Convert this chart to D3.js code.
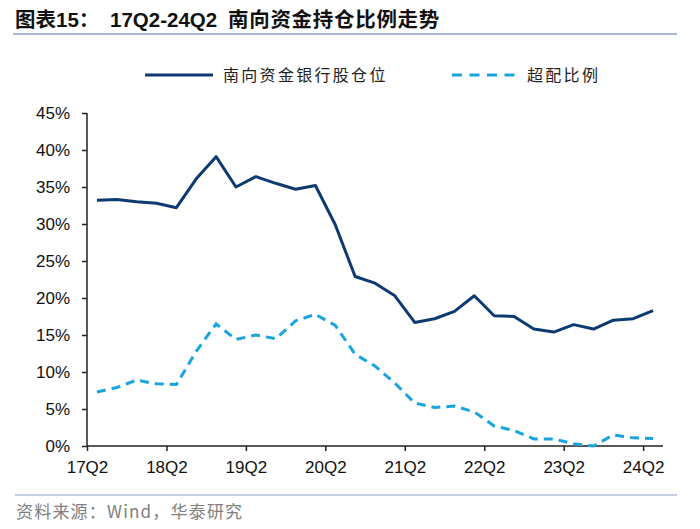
<!DOCTYPE html>
<html>
<head>
<meta charset="utf-8">
<script src="https://cdn.jsdelivr.net/npm/d3@7"></script>
<style>
  html, body { margin: 0; padding: 0; background: #fff; }
  svg { display: block; }
</style>
</head>
<body>
<div id="chart"></div>
<script>
const quarters = ["17Q2","17Q3","17Q4","18Q1","18Q2","18Q3","18Q4","19Q1","19Q2","19Q3","19Q4","20Q1","20Q2","20Q3","20Q4","21Q1","21Q2","21Q3","21Q4","22Q1","22Q2","22Q3","22Q4","23Q1","23Q2","23Q3","23Q4","24Q1","24Q2"];
const bankHolding = [33.2, 33.3, 33.0, 32.8, 32.2, 36.1, 39.1, 35.0, 36.4, 35.5, 34.7, 35.2, 29.9, 22.9, 22.0, 20.3, 16.7, 17.2, 18.2, 20.3, 17.6, 17.5, 15.8, 15.4, 16.4, 15.8, 17.0, 17.2, 18.3];
const overweight = [7.3, 7.9, 8.9, 8.4, 8.3, 12.8, 16.5, 14.4, 15.0, 14.5, 16.9, 17.8, 16.3, 12.4, 10.8, 8.5, 5.8, 5.2, 5.4, 4.6, 2.7, 2.1, 0.95, 0.95, 0.3, 0.0, 1.5, 1.1, 1.0];
const yTicks = [0, 5, 10, 15, 20, 25, 30, 35, 40, 45];
const xTickLabels = ["17Q2","18Q2","19Q2","20Q2","21Q2","22Q2","23Q2","24Q2"];
const seriesNames = ["南向资金银行股仓位", "超配比例"];
const titleLead = "图表15：";
const titleRange = "17Q2-24Q2";
const titleMain = "南向资金持仓比例走势";
const sourceText = "资料来源：Wind，华泰研究";

const W = 700, H = 529;
const darkColor = "#0e3a72", lightColor = "#19a4e0";
const latin = "'Liberation Sans', Arial, 'Noto Sans CJK SC', sans-serif";
const cjk = "'Noto Sans CJK SC', 'Liberation Sans', sans-serif";

const svg = d3.select("#chart").append("svg").attr("width", W).attr("height", H);

// Title
const title = svg.append("text").attr("y", 27).attr("font-weight", "bold")
  .attr("font-size", 20.5).attr("fill", "#111").attr("font-family", latin);
title.append("tspan").attr("x", 15).text(titleLead);
title.append("tspan").attr("x", 110).text(titleRange);
title.append("tspan").attr("x", 228).attr("letter-spacing", 0.7).text(titleMain);
svg.append("line").attr("x1", 13).attr("x2", 677).attr("y1", 34).attr("y2", 34)
  .attr("stroke", "#8ba3c4").attr("stroke-width", 1.5);

// Scales
const x = d3.scaleLinear().domain([0, quarters.length]).range([87, 663]);
const y = d3.scaleLinear().domain([0, 45]).range([446, 113]);

// Axes
const yAxis = d3.axisLeft(y).tickValues(yTicks).tickSize(5).tickPadding(12)
  .tickFormat(d => d + "%");
const gy = svg.append("g").attr("transform", "translate(87,0)").call(yAxis);
const xTickIdx = xTickLabels.map(l => quarters.indexOf(l));
const xAxis = d3.axisBottom(x).tickValues(xTickIdx).tickSize(5).tickPadding(10)
  .tickFormat(i => quarters[i]);
const gx = svg.append("g").attr("transform", "translate(0,446)").call(xAxis);
[gx, gy].forEach(g => {
  g.select(".domain").attr("stroke", "#222").attr("stroke-width", 1.5);
  g.selectAll(".tick line").attr("stroke", "#222").attr("stroke-width", 1.5);
  g.selectAll(".tick text").attr("font-family", latin).attr("font-size", 17).attr("fill", "#111");
});
gy.select(".domain").attr("d", `M-0,${y(45)}V${y(0)}`);
gx.select(".domain").attr("d", `M${x(0)},0H${x(quarters.length)}`);

// Lines
const line = d3.line().x((d, i) => x(i + 0.5)).y(d => y(d));
svg.append("path").datum(overweight).attr("d", line).attr("fill", "none")
  .attr("stroke", lightColor).attr("stroke-width", 3).attr("stroke-dasharray", "9,6");
svg.append("path").datum(bankHolding).attr("d", line).attr("fill", "none")
  .attr("stroke", darkColor).attr("stroke-width", 3).attr("stroke-linejoin", "round");

// Legend
const lg = svg.append("g");
lg.append("line").attr("x1", 145).attr("x2", 213).attr("y1", 75).attr("y2", 75)
  .attr("stroke", darkColor).attr("stroke-width", 3);
lg.append("text").attr("x", 223).attr("y", 81).attr("font-family", cjk).attr("font-size", 16)
  .attr("letter-spacing", 2.3).attr("fill", "#222").text(seriesNames[0]);
lg.append("line").attr("x1", 452).attr("x2", 516).attr("y1", 75).attr("y2", 75)
  .attr("stroke", lightColor).attr("stroke-width", 3).attr("stroke-dasharray", "10,7.5");
lg.append("text").attr("x", 527).attr("y", 81).attr("font-family", cjk).attr("font-size", 16)
  .attr("letter-spacing", 2.3).attr("fill", "#222").text(seriesNames[1]);

// Footer
svg.append("line").attr("x1", 15).attr("x2", 677).attr("y1", 495).attr("y2", 495)
  .attr("stroke", "#8ba3c4").attr("stroke-width", 1.2);
svg.append("text").attr("x", 16).attr("y", 518).attr("font-family", cjk).attr("font-size", 17)
  .attr("letter-spacing", 1.2).attr("fill", "#808080").text(sourceText);
</script>
</body>
</html>
